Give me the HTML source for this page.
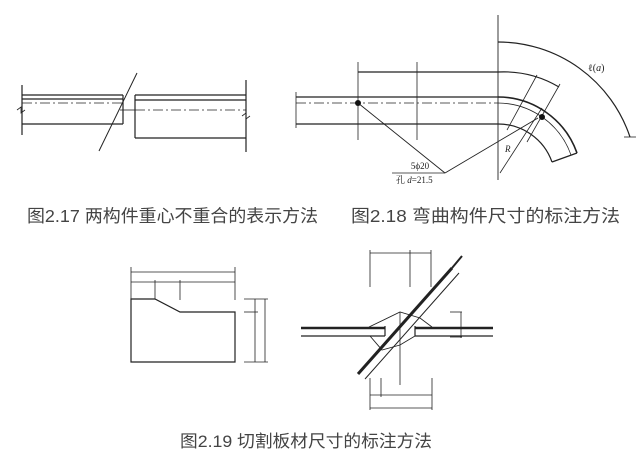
<!DOCTYPE html>
<html><head><meta charset="utf-8"><style>
html,body{margin:0;padding:0;background:#fff;}
svg{display:block;}
text{font-family:"Liberation Serif","Noto Serif CJK SC",serif;fill:#222;}
text.cap{font-family:"Liberation Sans","Noto Sans CJK SC",sans-serif;fill:#444;}
</style></head><body>
<svg width="640" height="462" viewBox="0 0 640 462" xmlns="http://www.w3.org/2000/svg">
<g stroke="#222" stroke-width="1.2" fill="none">
<!-- Fig 2.17 -->
<line x1="22" y1="85" x2="22" y2="135"/>
<line x1="22" y1="95" x2="123" y2="95"/>
<line x1="22" y1="99" x2="123" y2="99"/>
<line x1="22" y1="103" x2="123" y2="103" stroke-dasharray="10,3,2,3" stroke-width="0.8"/>
<line x1="22" y1="124" x2="123" y2="124"/>
<line x1="123" y1="95" x2="123" y2="124"/>
<line x1="120" y1="110" x2="135" y2="110" stroke-width="0.8"/>
<line x1="135" y1="95" x2="246" y2="95"/>
<line x1="135" y1="100" x2="246" y2="100"/>
<line x1="135" y1="110" x2="246" y2="110" stroke-dasharray="10,3,2,3" stroke-width="0.8"/>
<line x1="135" y1="138" x2="246" y2="138"/>
<line x1="135" y1="95" x2="135" y2="138"/>
<line x1="246" y1="80" x2="246" y2="152"/>
<line x1="137" y1="73" x2="99" y2="151" stroke-width="1"/>
<path d="M17 110 l4 -3 l0 6 l4 -3" stroke-width="0.8"/>
<path d="M242 116 l4 -3 l0 6 l4 -3" stroke-width="0.8"/>

<!-- Fig 2.18 -->
<line x1="498" y1="15" x2="498" y2="180" stroke-width="0.9"/>
<line x1="296" y1="97" x2="498" y2="97"/>
<line x1="296" y1="124" x2="498" y2="124"/>
<line x1="296" y1="92" x2="296" y2="128" stroke-width="0.8"/>
<line x1="296" y1="103" x2="498" y2="103" stroke-dasharray="10,3,2,3" stroke-width="0.8"/>
<path d="M498 97 A84 84 0 0 1 577 153" stroke-width="1.6"/>
<path d="M498 103 A78 78 0 0 1 571 155" stroke-width="0.8"/>
<path d="M498 124 A57 57 0 0 1 552 162"/>
<line x1="577" y1="153" x2="552" y2="162"/>
<line x1="358" y1="72" x2="498" y2="72"/>
<line x1="358" y1="62" x2="358" y2="140" stroke-width="0.8"/>
<line x1="417" y1="62" x2="417" y2="140" stroke-width="0.8"/>
<path d="M498 72 A109 109 0 0 1 559 87"/>
<line x1="537" y1="75" x2="507" y2="130" stroke-width="0.8"/>
<line x1="560" y1="84" x2="527" y2="142" stroke-width="0.8"/>
<path d="M498 42 A139 139 0 0 1 630 137"/>
<line x1="624" y1="137" x2="636" y2="137" stroke-width="0.8"/>
<line x1="392" y1="173" x2="445" y2="173" stroke-width="0.8"/>
<line x1="358" y1="103" x2="445" y2="173" stroke-width="0.9"/>
<line x1="445" y1="173" x2="538" y2="118" stroke-width="0.9"/>
<line x1="500" y1="173" x2="542" y2="108" stroke-width="0.8"/>

<!-- Fig 2.19 plate -->
<path d="M131 299 L155 299 L180 312 L235 312 L235 362 L131 362 Z"/>
<line x1="131" y1="272" x2="235" y2="272" stroke-width="0.8"/>
<line x1="131" y1="282" x2="235" y2="282" stroke-width="0.8"/>
<line x1="131" y1="267" x2="131" y2="299" stroke-width="0.8"/>
<line x1="155" y1="280" x2="155" y2="299" stroke-width="0.8"/>
<line x1="180" y1="280" x2="180" y2="300" stroke-width="0.8"/>
<line x1="235" y1="267" x2="235" y2="300" stroke-width="0.8"/>
<line x1="255" y1="299" x2="255" y2="362" stroke-width="0.8"/>
<line x1="265" y1="299" x2="265" y2="362" stroke-width="0.8"/>
<line x1="244" y1="299" x2="268" y2="299" stroke-width="0.8"/>
<line x1="244" y1="312" x2="258" y2="312" stroke-width="0.8"/>
<line x1="244" y1="362" x2="268" y2="362" stroke-width="0.8"/>

<!-- Fig 2.19 gusset -->
<line x1="301" y1="328" x2="385" y2="328" stroke-width="2.5"/>
<line x1="301" y1="336" x2="385" y2="336"/>
<line x1="385" y1="326" x2="385" y2="336"/>
<line x1="415" y1="328" x2="493" y2="328" stroke-width="2.5"/>
<line x1="415" y1="336" x2="493" y2="336"/>
<line x1="415" y1="326" x2="415" y2="336"/>
<path d="M369 327 L400 312 L420 318 L432 327" stroke-width="0.9"/>
<path d="M370 336 L382 350 L400 345 L415 336" stroke-width="0.9"/>
<line x1="358" y1="374" x2="452" y2="268" stroke-width="3"/>
<line x1="365" y1="379" x2="459" y2="273" stroke-width="1"/>
<line x1="452" y1="268" x2="462" y2="256" stroke-width="2"/>
<line x1="400" y1="312" x2="400" y2="385" stroke-width="0.8"/>
<line x1="370" y1="253" x2="431" y2="253" stroke-width="0.8"/>
<line x1="370" y1="250" x2="370" y2="287" stroke-width="0.8"/>
<line x1="410" y1="250" x2="410" y2="287" stroke-width="0.8"/>
<line x1="431" y1="250" x2="431" y2="287" stroke-width="0.8"/>
<line x1="370" y1="395" x2="432" y2="395" stroke-width="0.8"/>
<line x1="370" y1="408" x2="432" y2="408" stroke-width="0.8"/>
<line x1="370" y1="378" x2="370" y2="410" stroke-width="0.8"/>
<line x1="381" y1="378" x2="381" y2="397" stroke-width="0.8"/>
<line x1="432" y1="378" x2="432" y2="410" stroke-width="0.8"/>
<line x1="450" y1="312" x2="462" y2="312" stroke-width="0.8"/>
<line x1="461" y1="312" x2="461" y2="338" stroke-width="0.8"/>
<line x1="450" y1="337" x2="462" y2="337" stroke-width="0.8"/>
</g>
<circle cx="358" cy="103" r="3" fill="#111"/>
<circle cx="542" cy="117" r="3" fill="#111"/>
<text x="420" y="169" font-size="9" text-anchor="middle">5ϕ20</text>
<text x="396" y="183" font-size="9">孔 <tspan font-style="italic">d</tspan>=21.5</text>
<text x="505" y="152" font-size="9" font-style="italic">R</text>
<text x="588" y="71" font-size="10">ℓ(<tspan font-style="italic">a</tspan>)</text>
<text class="cap" x="27" y="222" font-size="17.5" textLength="291" lengthAdjust="spacingAndGlyphs">图2.17 两构件重心不重合的表示方法</text>
<text class="cap" x="351" y="222" font-size="17.5" textLength="269" lengthAdjust="spacingAndGlyphs">图2.18  弯曲构件尺寸的标注方法</text>
<text class="cap" x="180" y="447" font-size="17" textLength="252" lengthAdjust="spacingAndGlyphs">图2.19 切割板材尺寸的标注方法</text>
</svg>
</body></html>
